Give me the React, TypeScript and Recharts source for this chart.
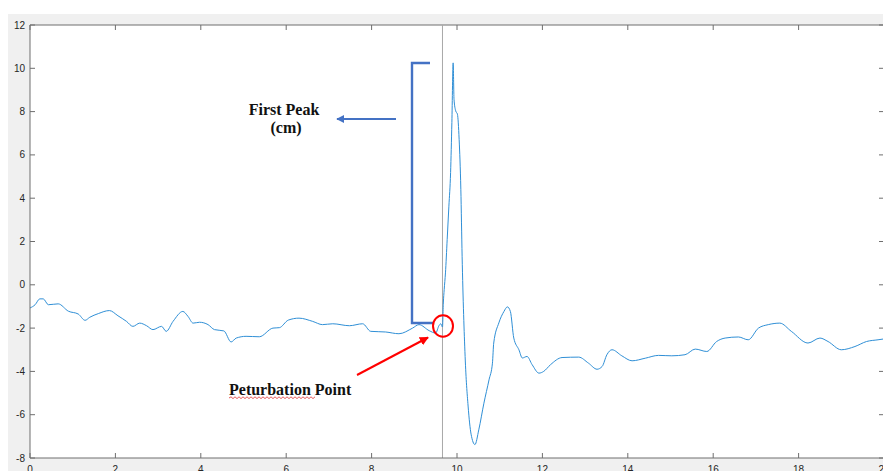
import { LineChart, Line, XAxis, YAxis, CartesianGrid, ReferenceLine } from "recharts"

// displacement trace (cm) against time (s)
const time = [
  0, 0.12, 0.23, 0.31, 0.43, 0.66, 0.9, 1.13, 1.29, 1.4, 1.6, 1.86, 2.06, 2.26, 2.41, 2.57,
  2.73, 2.88, 3.08, 3.19, 3.35, 3.58, 3.7, 3.82, 3.97, 4.17, 4.32, 4.54, 4.71, 4.83, 5.06,
  5.37, 5.69, 5.84, 6.05, 6.3, 6.62, 6.85, 7.09, 7.48, 7.79, 7.98, 8.33, 8.64, 8.96, 9.11,
  9.35, 9.5, 9.58, 9.62, 9.66, 9.68, 9.7, 9.73, 9.77, 9.81, 9.85, 9.88, 9.91, 9.93, 9.97,
  10.01, 10.05, 10.09, 10.12, 10.19, 10.26, 10.33, 10.42, 10.51, 10.63, 10.75, 10.83, 10.86,
  10.98, 11.1, 11.18, 11.25, 11.33, 11.45, 11.53, 11.64, 11.76, 11.92, 12.03, 12.19, 12.46,
  12.85, 13.08, 13.28, 13.4, 13.51, 13.63, 13.86, 14.1, 14.41, 14.72, 15.03, 15.34, 15.58,
  15.85, 16.08, 16.28, 16.59, 16.82, 17.06, 17.29, 17.56, 17.83, 18.22, 18.5, 18.69, 19.0,
  19.32, 19.59, 19.86, 20.0,
]
const disp = [
  -1.07, -0.92, -0.65, -0.65, -0.92, -0.88, -1.22, -1.35, -1.64, -1.5, -1.33, -1.19, -1.43,
  -1.69, -1.92, -1.77, -1.89, -2.07, -1.92, -2.15, -1.69, -1.23, -1.46, -1.77, -1.73, -1.84,
  -2.07, -2.13, -2.64, -2.46, -2.38, -2.4, -2.0, -1.98, -1.63, -1.54, -1.69, -1.84, -1.8,
  -1.89, -1.8, -2.15, -2.18, -2.26, -2.0, -1.84, -2.12, -2.23, -1.88, -1.8, -1.95, -0.84,
  -0.22, 0.55, 2.09, 3.63, 5.19, 7.5, 10.25, 8.57, 8.03, 7.88, 6.72, 4.41, 1.32, -3.31,
  -5.6, -6.9, -7.38, -6.7, -5.47, -4.39, -3.62, -2.69, -1.76, -1.23, -1.02, -1.23, -2.46,
  -3.0, -3.38, -3.31, -3.69, -4.08, -4.0, -3.69, -3.36, -3.34, -3.62, -3.9, -3.77, -3.23,
  -3.0, -3.28, -3.51, -3.39, -3.26, -3.28, -3.23, -2.97, -3.08, -2.62, -2.46, -2.41, -2.54,
  -2.0, -1.84, -1.77, -2.15, -2.69, -2.46, -2.62, -3.0, -2.85, -2.62, -2.54, -2.5,
]
const xTicks = [0, 2, 4, 6, 8, 10, 12, 14, 16, 18, 20]
const yTicks = [-8, -6, -4, -2, 0, 2, 4, 6, 8, 10, 12]
const perturbationTime = 9.66

const data = time.map((t, i) => ({ t, d: disp[i] }))

const W = 890
const H = 471
const MARGIN = { top: 25, right: 6, bottom: 0, left: 0 }
const Y_AXIS_W = 30
const X_AXIS_H = 13
const PLOT_TOP = MARGIN.top
const PLOT_BOTTOM = H - MARGIN.bottom - X_AXIS_H
const PLOT_LEFT = MARGIN.left + Y_AXIS_W
const PLOT_RIGHT = W - MARGIN.right
const TICK_LEN = 5

const AXIS = "#6e6e6e"
const LABEL = "#262626"
const TRACE = "#2f8fd6"
const CALLOUT_BLUE = "#4472c4"
const tickFont = { fontFamily: "'Liberation Sans', Arial, sans-serif", fontSize: 10, fill: LABEL }

// MATLAB-style ticks: pointing inward on both sides of the box
function XTick({ x, payload }: any) {
  return (
    <g>
      <line x1={x} x2={x} y1={PLOT_BOTTOM} y2={PLOT_BOTTOM - TICK_LEN} stroke={AXIS} />
      <line x1={x} x2={x} y1={PLOT_TOP} y2={PLOT_TOP + TICK_LEN} stroke={AXIS} />
      <text x={x} y={PLOT_BOTTOM + 15} textAnchor="middle" {...tickFont}>
        {payload.value}
      </text>
    </g>
  )
}

function YTick({ y, payload }: any) {
  return (
    <g>
      <line x1={PLOT_LEFT} x2={PLOT_LEFT + TICK_LEN} y1={y} y2={y} stroke={AXIS} />
      <line x1={PLOT_RIGHT} x2={PLOT_RIGHT - TICK_LEN} y1={y} y2={y} stroke={AXIS} />
      <text x={PLOT_LEFT - 5} y={y + 3.5} textAnchor="end" {...tickFont}>
        {payload.value}
      </text>
    </g>
  )
}

// red spell-check squiggle under "Peturbation"
function squiggle(x0: number, x1: number, y: number) {
  let d = `M${x0},${y}`
  let up = true
  for (let x = x0 + 2; x <= x1; x += 2) {
    d += ` L${x},${up ? y - 1.2 : y + 0.6}`
    up = !up
  }
  return d
}

function Callouts() {
  const serif = { fontFamily: "'Liberation Serif', 'Times New Roman', serif", fontWeight: 700, fontSize: 16, fill: "#111" }
  return (
    <svg width={883} height={471} style={{ position: "absolute", left: 0, top: 0, pointerEvents: "none" }}>
      <defs>
        <marker id="redHead" viewBox="0 0 10 10" refX="9" refY="5" markerWidth="9" markerHeight="9" markerUnits="userSpaceOnUse" orient="auto">
          <path d="M0,0 L10,5 L0,10 z" fill="#ff0000" />
        </marker>
        <marker id="blueHead" viewBox="0 0 10 10" refX="9" refY="5" markerWidth="8" markerHeight="8" markerUnits="userSpaceOnUse" orient="auto">
          <path d="M0,0 L10,5 L0,10 z" fill={CALLOUT_BLUE} />
        </marker>
      </defs>
      {/* bracket spanning baseline to first peak */}
      <path d="M430,63 L412,63 L412,323 L433,323" fill="none" stroke={CALLOUT_BLUE} strokeWidth={2.4} />
      <line x1={396} y1={119} x2={337} y2={119} stroke={CALLOUT_BLUE} strokeWidth={2} markerEnd="url(#blueHead)" />
      <text x={284} y={114.5} textAnchor="middle" {...serif}>First Peak</text>
      <text x={286} y={133} textAnchor="middle" {...serif}>(cm)</text>

      <ellipse cx={443} cy={326} rx={10} ry={10.8} fill="none" stroke="#ff0000" strokeWidth={2} />
      <line x1={357} y1={375} x2={428} y2={337.5} stroke="#ff0000" strokeWidth={2} markerEnd="url(#redHead)" />
      <text x={229} y={395} {...serif}>Peturbation Point</text>
      <path d={squiggle(229, 315, 398)} fill="none" stroke="#e03030" strokeWidth={0.8} />
    </svg>
  )
}

export default function App() {
  return (
    <div style={{ position: "absolute", left: 0, top: 0, width: 883, height: 471, overflow: "hidden", background: "#fff" }}>
      <div style={{ position: "absolute", left: 8, top: 14, right: 0, bottom: 0, background: "#f0f0f0" }} />
      <div style={{ position: "absolute", left: 0, top: 0 }}>
        <LineChart width={W} height={H} data={data} margin={MARGIN}>
          <CartesianGrid fill="#ffffff" horizontal={false} vertical={false} />
          <XAxis
            dataKey="t"
            type="number"
            domain={[0, 20]}
            ticks={xTicks}
            interval={0}
            height={X_AXIS_H}
            stroke={AXIS}
            tickLine={false}
            tick={<XTick />}
          />
          <YAxis
            type="number"
            domain={[-8, 12]}
            ticks={yTicks}
            interval={0}
            width={Y_AXIS_W}
            stroke={AXIS}
            tickLine={false}
            tick={<YTick />}
          />
          <ReferenceLine y={12} stroke={AXIS} />
          <ReferenceLine x={20} stroke={AXIS} />
          <ReferenceLine x={perturbationTime} stroke="#a8a8a8" />
          <Line
            dataKey="d"
            type="monotone"
            stroke={TRACE}
            strokeWidth={1}
            dot={false}
            isAnimationActive={false}
          />
        </LineChart>
      </div>
      <Callouts />
    </div>
  )
}
